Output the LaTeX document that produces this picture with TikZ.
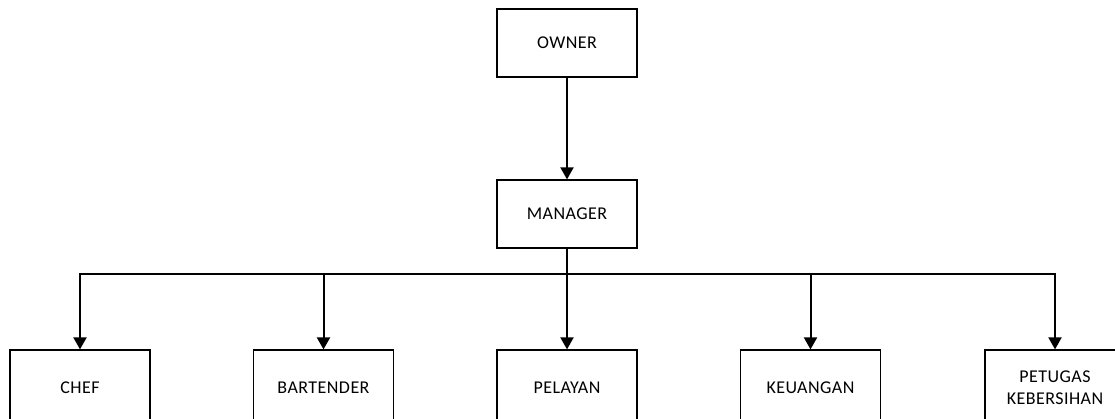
\documentclass[tikz,border=0pt]{standalone}
\usepackage{fontspec}
\setmainfont{Carlito}[LetterSpace=2.5]
\usetikzlibrary{arrows.meta}
\begin{document}
\begin{tikzpicture}[x=1pt,y=-1pt,
  box/.style={rectangle,draw,line width=1.2pt,minimum width=140pt,minimum height=68pt,align=center,font=\fontsize{18}{22}\selectfont},
  link/.style={line width=2pt},
  arr/.style={link,-{Triangle[width=13pt,length=12pt]}}]
\useasboundingbox (0,0) rectangle (1115,419);

\node[box] (owner) at (567,43) {OWNER};
\node[box] (manager) at (567,214) {MANAGER};
\node[box,minimum height=76pt] (chef) at (80,388) {CHEF};
\node[box,minimum height=76pt] (bartender) at (323.5,388) {BARTENDER};
\node[box,minimum height=76pt] (pelayan) at (567,388) {PELAYAN};
\node[box,minimum height=76pt] (keuangan) at (810.5,388) {KEUANGAN};
\node[box,minimum height=76pt] (petugas) at (1055,388) {PETUGAS\\KEBERSIHAN};

\coordinate (bus) at (567,274);
\draw[arr] (owner) -- (manager);
\draw[link] (manager) -- (bus);
\foreach \n in {chef,bartender,pelayan,keuangan,petugas}{
  \draw[arr] (bus) -| (\n.north);
}
\end{tikzpicture}
\end{document}
